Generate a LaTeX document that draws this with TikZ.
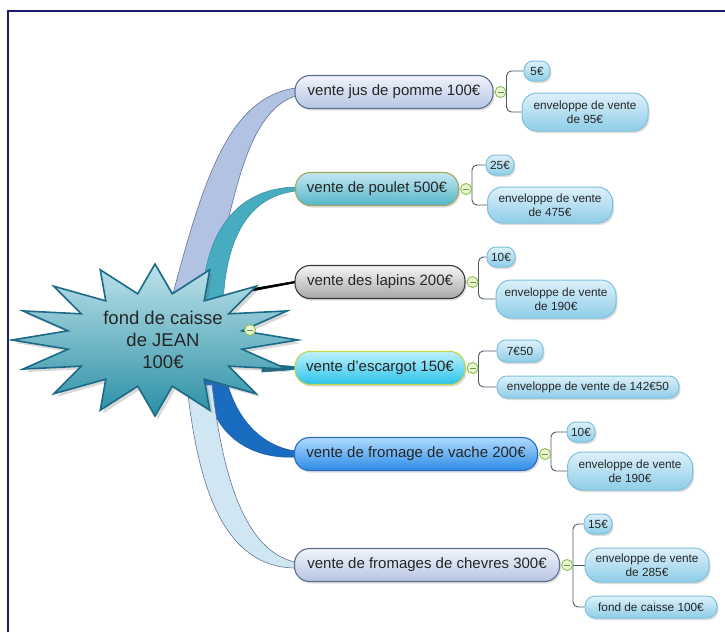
\documentclass[tikz,border=0pt]{standalone}
\usepackage{fontspec}
\setmainfont{Liberation Sans}
\usetikzlibrary{shadows,backgrounds,calc}

\definecolor{framec}{HTML}{1A1A6E}
\definecolor{lavtop}{HTML}{F0F4FB}
\definecolor{lavbot}{HTML}{B6C5E2}
\definecolor{lavbd}{HTML}{5F6F92}
\definecolor{teatop}{HTML}{C4E8F1}
\definecolor{teabot}{HTML}{55B5CA}
\definecolor{teabd}{HTML}{9EA862}
\definecolor{grytop}{HTML}{F6F6F6}
\definecolor{grybot}{HTML}{A6A6A6}
\definecolor{grybd}{HTML}{383838}
\definecolor{cyatop}{HTML}{BDF2FD}
\definecolor{cyabot}{HTML}{2BC2EA}
\definecolor{cyabd}{HTML}{BFD64A}
\definecolor{blutop}{HTML}{AEDBFD}
\definecolor{blubot}{HTML}{2C8BE8}
\definecolor{blubd}{HTML}{2E6BC0}
\definecolor{leaftop}{HTML}{DDF1FA}
\definecolor{leafbot}{HTML}{8ECDE8}
\definecolor{leafbd}{HTML}{7FC0DC}
\definecolor{twigc}{HTML}{4A5A6A}
\definecolor{startop}{HTML}{BDE2EB}
\definecolor{starmid}{HTML}{5DB3C4}
\definecolor{starbot}{HTML}{2A8FA4}
\definecolor{starbd}{HTML}{1B6A87}
\definecolor{band1c}{HTML}{B2C2E3}
\definecolor{band2c}{HTML}{48ACC1}
\definecolor{band5c}{HTML}{1A6CC0}
\definecolor{band6c}{HTML}{D0E6F3}
\definecolor{bandbd}{HTML}{62769A}
\definecolor{colfill}{HTML}{EAF5D5}
\definecolor{colbd}{HTML}{8ABF4A}

\tikzset{
  softshadow/.style={drop shadow={shadow xshift=1.5pt, shadow yshift=-2pt, opacity=0.22, fill=black!60}},
  pill/.style={draw, line width=1.1pt, rounded corners=15pt, minimum height=33pt,
    inner xsep=6pt, font=\fontsize{15}{17}\selectfont, text=black!85, softshadow},
  lavpill/.style={pill, draw=lavbd, top color=lavtop, bottom color=lavbot},
  teapill/.style={pill, draw=teabd, top color=teatop, bottom color=teabot},
  grypill/.style={pill, draw=grybd, top color=grytop, bottom color=grybot},
  cyapill/.style={pill, draw=cyabd, top color=cyatop, bottom color=cyabot},
  blupill/.style={pill, draw=blubd, top color=blutop, bottom color=blubot},
  leaf/.style={draw=leafbd, line width=1pt, rounded corners=9pt, top color=leaftop,
    bottom color=leafbot, font=\fontsize{11.8}{14}\selectfont, text=black!85,
    align=center, inner sep=1.5pt, minimum height=20pt, softshadow},
  bigleaf/.style={leaf, rounded corners=15pt},
  twig/.style={draw=twigc, line width=0.9pt, rounded corners=5pt},
  collapse/.style={circle, draw=colbd, fill=colfill, line width=0.9pt,
    minimum size=11pt, inner sep=0pt,
    path picture={\draw[colbd!80!black, line width=0.9pt]
      ([xshift=-3pt]path picture bounding box.center) --
      ([xshift=3pt]path picture bounding box.center);}},
  band/.style={line width=0.6pt},
}

\begin{document}
\begin{tikzpicture}[x=1pt,y=-1pt]
\useasboundingbox (0,0) rectangle (725,632);
\draw[framec, line width=1.6pt] (8,632) -- (8,11) -- (725,11);

% star
\path[draw=starbd, line width=1.6pt, top color=startop, middle color=starmid, bottom color=starbot,
      drop shadow={shadow xshift=3pt, shadow yshift=-3pt, opacity=0.25, fill=black!60}]
  (298,340) \foreach \i in {1,...,31}{
    -- ({155+143*(0.62+0.38*(1-mod(\i,2)))*cos(\i*11.25)},
        {340-76*(0.62+0.38*(1-mod(\i,2)))*sin(\i*11.25)}) } -- cycle;

\node[font=\fontsize{18.5}{22}\selectfont, align=center, text=black!85] (root) at (163,340)
  {fond de caisse\\de JEAN\\100€};
\node[collapse] (c0) at (250,330) {};

\coordinate (s1) at (190,305);
\coordinate (s2) at (214,305);
\coordinate (s3) at (240,292);
\coordinate (s4) at (262,368);
\coordinate (s5) at (214,378);
\coordinate (s6) at (199,385);

% main branches
\node[lavpill, minimum width=198pt] (b1) at (394,92) {vente jus de pomme 100€};
\node[teapill, minimum width=163pt] (b2) at (377,189) {vente de poulet 500€};
\node[grypill, minimum width=170pt] (b3) at (380,282) {vente des lapins 200€};
\node[cyapill, minimum width=170pt] (b4) at (380,368) {vente d'escargot 150€};
\node[blupill, minimum width=243pt] (b5) at (416,454) {vente de fromage de vache 200€};
\node[lavpill, minimum width=265pt] (b6) at (427,565) {vente de fromages de chevres 300€};

% leaves
\node[leaf, minimum width=26pt] (l1a) at (537,71) {5€};
\node[bigleaf, minimum width=126pt, minimum height=38pt] (l1b) at (585,112) {enveloppe de vente\\de 95€};
\node[leaf, minimum width=28pt] (l2a) at (500,165) {25€};
\node[bigleaf, minimum width=125pt, minimum height=36pt] (l2b) at (550,205) {enveloppe de vente\\de 475€};
\node[leaf, minimum width=28pt] (l3a) at (501,257) {10€};
\node[bigleaf, minimum width=120pt, minimum height=38pt] (l3b) at (556,299) {enveloppe de vente\\de 190€};
\node[leaf, minimum width=46pt, minimum height=22pt] (l4a) at (520,351) {7€50};
\node[leaf, minimum width=182pt, minimum height=22pt, rounded corners=10pt] (l4b) at (588,387) {enveloppe de vente de 142€50};
\node[leaf, minimum width=28pt] (l5a) at (581,432) {10€};
\node[bigleaf, minimum width=125pt, minimum height=38pt] (l5b) at (630,471) {enveloppe de vente\\de 190€};
\node[leaf, minimum width=28pt] (l6a) at (598,524) {15€};
\node[bigleaf, minimum width=124pt, minimum height=34pt] (l6b) at (647,565) {enveloppe de vente\\de 285€};
\node[leaf, minimum width=132pt, minimum height=22pt, rounded corners=10pt] (l6c) at (651,607) {fond de caisse 100€};

% collapse buttons
\node[collapse] (c1) at ([xshift=7pt]b1.east) {};
\node[collapse] (c2) at ([xshift=7pt]b2.east) {};
\node[collapse] (c3) at ([xshift=7pt]b3.east) {};
\node[collapse] (c4) at ([xshift=7pt]b4.east) {};
\node[collapse] (c5) at ([xshift=7pt]b5.east) {};
\node[collapse] (c6) at ([xshift=7pt]b6.east) {};

\begin{pgfonlayer}{background}
  \fill[white] (0,0) rectangle (725,632);
  % tapered branches
  \path[band, fill=band1c, draw=bandbd]
    ($(s1)+(-20,0)$) .. controls (203,180) and (228,98) .. ($(b1.west)+(1,-4)$)
    -- ($(b1.west)+(1,4)$) .. controls (248,112) and (234,190) .. ($(s1)+(20,0)$) -- cycle;
  \path[band, fill=band2c, draw=band2c!85!black]
    ($(s2)+(-12,0)$) .. controls (204,228) and (240,188) .. ($(b2.west)+(1,-2)$)
    -- ($(b2.west)+(1,2)$) .. controls (252,196) and (226,232) .. ($(s2)+(9,0)$) -- cycle;
  \path[band, fill=black, draw=black]
    ($(s3)+(0,-1.3)$) -- ($(b3.west)+(1,-0.8)$) -- ($(b3.west)+(1,0.8)$) -- ($(s3)+(0,1.3)$) -- cycle;
  \path[band, fill=starbd, draw=starbd]
    ($(s4)+(0,-4)$) -- ($(b4.west)+(1,-1.5)$) -- ($(b4.west)+(1,1.5)$) -- ($(s4)+(0,4)$) -- cycle;
  \path[band, fill=band5c, draw=band5c!85!black]
    ($(s5)+(-10,0)$) .. controls (212,440) and (255,459) .. ($(b5.west)+(1,3)$)
    -- ($(b5.west)+(1,-3)$) .. controls (262,446) and (236,420) .. ($(s5)+(12,0)$) -- cycle;
  \path[band, fill=band6c, draw=bandbd]
    ($(s6)+(-12,0)$) .. controls (198,490) and (225,567) .. ($(b6.west)+(1,3)$)
    -- ($(b6.west)+(1,-3)$) .. controls (246,551) and (223,480) .. ($(s6)+(13,0)$) -- cycle;
  % twigs
  \draw[twig] (c1.east) |- (l1a.west);
  \draw[twig] (c1.east) |- (l1b.west);
  \draw[twig] (c2.east) |- (l2a.west);
  \draw[twig] (c2.east) |- (l2b.west);
  \draw[twig] (c3.east) |- (l3a.west);
  \draw[twig] (c3.east) |- (l3b.west);
  \draw[twig] (c4.east) |- (l4a.west);
  \draw[twig] (c4.east) |- (l4b.west);
  \draw[twig] (c5.east) |- (l5a.west);
  \draw[twig] (c5.east) |- (l5b.west);
  \draw[twig] (c6.east) |- (l6a.west);
  \draw[twig] (c6.east) -- (l6b.west);
  \draw[twig] (c6.east) |- (l6c.west);
\end{pgfonlayer}
\end{tikzpicture}
\end{document}
